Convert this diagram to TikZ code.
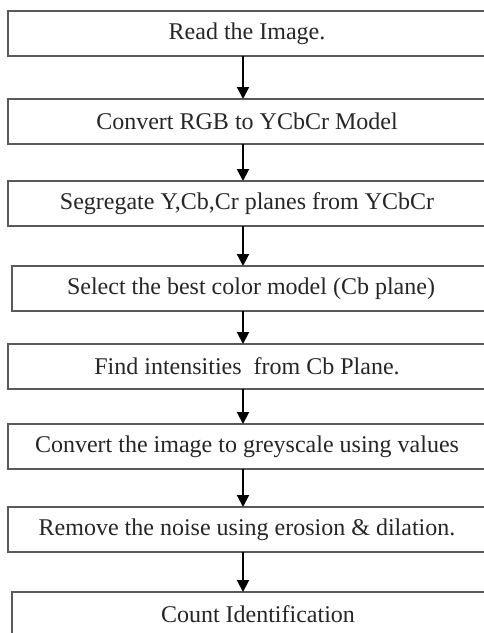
\documentclass[tikz,border=0pt]{standalone}
\usepackage{fontspec}
\setmainfont{Liberation Serif}
\usepackage{tikz}
\usetikzlibrary{arrows.meta, positioning}
\definecolor{frame}{HTML}{5A5A5A}

\begin{document}
\begin{tikzpicture}[
  x=1pt, y=1pt,
  box/.style={rectangle, draw=frame, line width=1.6pt, minimum width=478pt, minimum height=45pt, inner sep=0pt, outer sep=0pt, align=center, font=\fontsize{24}{27}\selectfont, text=black!85},
  arrow/.style={-{Triangle[length=12pt, width=12pt]}, line width=2pt}
]
\useasboundingbox (0,0) rectangle (483,-633);

% Steps
\node[box] (read) at (247,-33.5) {Read the Image.};
\node[box, below=43pt of read] (conv) {Convert RGB to YCbCr Model};
\node[box, below=37pt of conv] (segr) {Segregate Y,Cb,Cr planes from YCbCr};
\node[box, below=40pt of segr, xshift=4pt] (sel) {Select the best color model (Cb plane)};
\node[box, below=33pt of sel, xshift=-4pt] (find) {Find intensities\ \ from Cb Plane.};
\node[box, below=35pt of find] (grey) {Convert the image to greyscale using values};
\node[box, below=38pt of grey] (noise) {Remove the noise using erosion \& dilation.};
\node[box, below=40pt of noise, xshift=4pt] (count) {\hspace{14pt}Count Identification};

% Arrows
\draw[arrow] ([xshift=-4pt]read.south) -- ([xshift=-4pt]read.south |- conv.north);
\draw[arrow] ([xshift=-4pt]conv.south) -- ([xshift=-4pt]conv.south |- segr.north);
\draw[arrow] ([xshift=-4pt]segr.south) -- ([xshift=-4pt]segr.south |- sel.north);
\draw[arrow] ([xshift=-8pt]sel.south) -- ([xshift=-8pt]sel.south |- find.north);
\draw[arrow] ([xshift=-4pt]find.south) -- ([xshift=-4pt]find.south |- grey.north);
\draw[arrow] ([xshift=-4pt]grey.south) -- ([xshift=-4pt]grey.south |- noise.north);
\draw[arrow] ([xshift=-4pt]noise.south) -- ([xshift=-4pt]noise.south |- count.north);

\end{tikzpicture}
\end{document}
